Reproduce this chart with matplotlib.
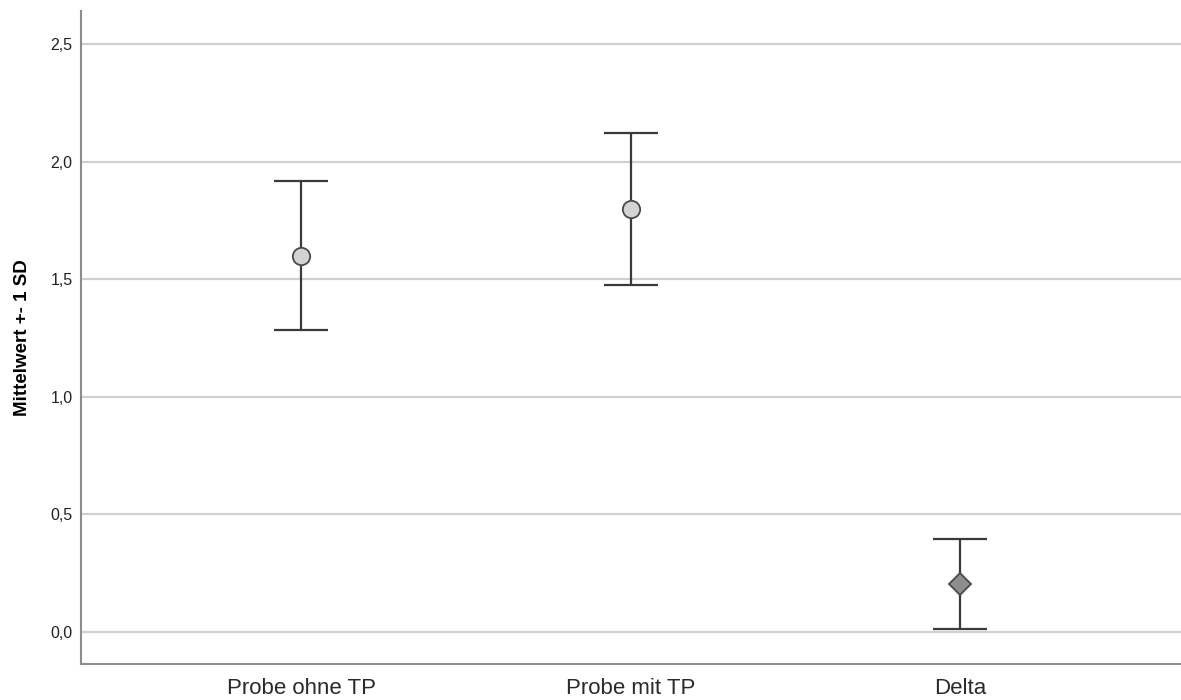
import matplotlib
matplotlib.use("Agg")
import matplotlib.pyplot as plt
from matplotlib.ticker import FuncFormatter

# Data
categories = ["Probe ohne TP", "Probe mit TP", "Delta"]
means = [1.600, 1.798, 0.205]
sds = [0.317, 0.323, 0.191]
markers = ["o", "o", "D"]
fills = ["#d3d3d3", "#d3d3d3", "#8e8e8e"]
yticks = [0.0, 0.5, 1.0, 1.5, 2.0, 2.5]

plt.rcParams["font.family"] = ["Liberation Sans", "DejaVu Sans"]

fig = plt.figure(figsize=(11.81, 7.0), dpi=100)
ax = fig.add_axes([81 / 1181, 36 / 700, 1 - 81 / 1181, 653 / 700])

for i, (m, s) in enumerate(zip(means, sds)):
    ax.errorbar(i, m, yerr=s, fmt="none", ecolor="#3a3a3a", elinewidth=1.6,
                capsize=19.5, capthick=1.6, zorder=3)
    ax.plot(i, m, marker=markers[i], markersize=12.5 if markers[i] == "o" else 11,
            markerfacecolor=fills[i], markeredgecolor="#4a4a4a",
            markeredgewidth=1.3, linestyle="none", zorder=4)

ax.set_xlim(-0.668, 2.671)
ax.set_ylim(-0.136, 2.640)
ax.set_xticks(range(len(categories)))
ax.set_xticklabels(categories, fontsize=16, color="#2a2a2a")
ax.set_yticks(yticks)
ax.yaxis.set_major_formatter(FuncFormatter(lambda v, p: f"{v:.1f}".replace(".", ",")))
ax.tick_params(axis="y", length=0, pad=6, labelsize=11.5, labelcolor="#222222")
ax.tick_params(axis="x", length=0, pad=10)

ax.grid(axis="y", color="#d0d0d0", linewidth=1.6, zorder=0)
ax.set_axisbelow(True)

for side in ["top", "right"]:
    ax.spines[side].set_visible(False)
for side in ["left", "bottom"]:
    ax.spines[side].set_color("#8c8c8c")
    ax.spines[side].set_linewidth(1.5)

ax.set_ylabel("Mittelwert +- 1 SD", fontsize=13.5, fontweight="bold", labelpad=14)

fig.savefig("out.png", dpi=100)
